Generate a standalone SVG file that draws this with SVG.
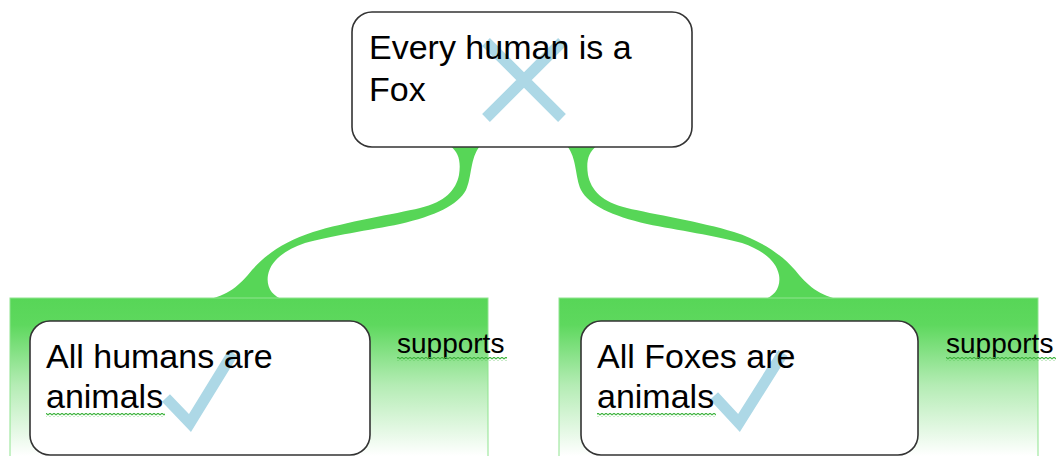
<svg xmlns="http://www.w3.org/2000/svg" width="1061" height="456" viewBox="0 0 1061 456">
  <defs>
    <linearGradient id="panelGrad" gradientUnits="userSpaceOnUse" x1="0" y1="298" x2="0" y2="456">
      <stop offset="0" stop-color="#57d657"/>
      <stop offset="0.17" stop-color="#5ed85e"/>
      <stop offset="0.55" stop-color="#b4ecb4"/>
      <stop offset="1" stop-color="#ffffff"/>
    </linearGradient>
    <pattern id="squig" patternUnits="userSpaceOnUse" width="4" height="4">
      <polyline points="0,3 2,1 4,3" fill="none" stroke="#3fb43f" stroke-width="1.2"/>
    </pattern>
    <path id="branch" d="M 450,146 C 459,152 461,162 459,175 C 456,190 445,202 420,208 C 395,214 345,222 313,232 C 285,241 265,255 252,270 C 240,285 228,296 205,300 L 284,300 C 272,296 266,287 268,275 C 271,260 285,250 305,243 C 330,236 370,230 400,224 C 435,216 458,205 466,190 C 472,177 470,158 480,146 Z"/>
  </defs>
  <style>
    .box { fill: #ffffff; stroke: #333333; stroke-width: 1.6; }
    .panel { fill: url(#panelGrad); stroke: #8fe48f; stroke-width: 1; }
    .txt { font-family: "Liberation Sans", Arial, sans-serif; font-size: 34px; fill: #000000; }
    .lbl { font-family: "Liberation Sans", Arial, sans-serif; font-size: 28px; fill: #000000; }
    .mark { fill: none; stroke: #add8e6; stroke-width: 11; stroke-linejoin: miter; }
    .conn { fill: #57d657; }
    .squig { fill: url(#squig); }
  </style>

  <g id="connectors">
    <use href="#branch" class="conn"/>
    <use href="#branch" class="conn" transform="translate(1047,0) scale(-1,1)"/>
  </g>

  <g id="node-top">
    <rect class="box" x="352" y="12" width="340" height="135" rx="20"/>
    <path class="mark" d="M 486,42 L 562,118 M 562,42 L 486,118"/>
    <text class="txt" x="369" y="59">Every human is a</text>
    <text class="txt" x="369" y="101">Fox</text>
  </g>

  <g id="node-left">
    <rect class="panel" x="10" y="298" width="478" height="160"/>
    <rect class="box" x="30" y="321" width="340" height="134" rx="20"/>
    <path class="mark" d="M 166,398 L 190,423 L 233,353"/>
    <text class="txt" x="46" y="368">All humans are</text>
    <text class="txt" x="46" y="408">animals</text>
    <rect class="squig" x="46" y="413" width="119" height="4"/>
  </g>

  <g id="node-right">
    <rect class="panel" x="559" y="298" width="479" height="160"/>
    <rect class="box" x="581" y="321" width="337" height="134" rx="20"/>
    <path class="mark" d="M 714,396 L 739,423 L 783,353"/>
    <text class="txt" x="597" y="368">All Foxes are</text>
    <text class="txt" x="597" y="408">animals</text>
    <rect class="squig" x="597" y="413" width="119" height="4"/>
  </g>

  <g id="labels">
    <text class="lbl" x="397" y="353">supports</text>
    <rect class="squig" x="397" y="357" width="110" height="4"/>
    <text class="lbl" x="946" y="353">supports</text>
    <rect class="squig" x="946" y="357" width="110" height="4"/>
  </g>
</svg>
